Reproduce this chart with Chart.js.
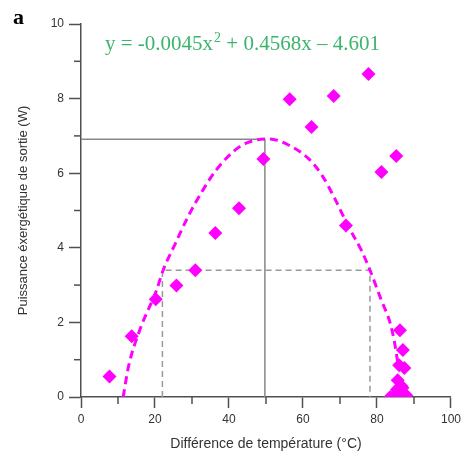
<!DOCTYPE html>
<html>
<head>
<meta charset="utf-8">
<script src="https://cdn.jsdelivr.net/npm/chart.js@4"></script>
<style>
  html, body { margin: 0; padding: 0; background: #fff; }
  #wrap { width: 465px; height: 455px; position: relative; }
</style>
</head>
<body>
<div id="wrap"><canvas id="chart"></canvas></div>
<script>
// Measured points: temperature difference (°C) vs output exergy power (W)
const tempDiff = [7.7, 13.7, 20.2, 25.8, 30.9, 36.3, 42.7, 49.3, 56.4, 62.3, 68.3, 71.6, 77.7, 81.2, 85.2,
                  86.2, 87.0, 86.0, 87.4, 85.6, 86.5, 86.9, 85.4, 85.0, 85.8, 86.6, 87.3, 83.6, 84.4, 87.9];
const power    = [0.55, 1.63, 2.62, 2.99, 3.40, 4.40, 5.06, 6.38, 7.98, 7.24, 8.07, 4.60, 8.66, 6.03, 6.46,
                  1.79, 1.26, 0.85, 0.78, 0.45, 0.30, 0.25, 0.20, 0.05, 0.00, 0.05, 0.00, 0.00, 0.00, 0.05];

// Fitted curve (dashed)
const fitX = [11.4, 12.8, 15.9, 20.4, 22.2, 25.3, 28.9, 32.9, 36.5, 41.4, 45.0, 50.8, 56.2, 61.5, 65.1,
              68.7, 72.3, 75.8, 78.1, 81.2, 83.5, 84.8, 85.8];
const fitY = [0.0, 0.8, 1.8, 2.86, 3.4, 4.07, 4.83, 5.54, 6.08, 6.6, 6.82, 6.92, 6.75, 6.39, 5.95,
              5.3, 4.56, 3.93, 3.4, 2.59, 2.0, 1.43, 0.8];

// Guide lines: maximum (solid) and half-power level (dashed)
const peakLineX = [0, 49.7, 49.7];
const peakLineY = [6.91, 6.91, 0];
const halfLineX = [22.0, 22.0, 78.1, 78.1];
const halfLineY = [0, 3.4, 3.4, 0];

// Axis ticks
const xTicks = [0, 20, 40, 60, 80, 100];
const yTicks = [0, 2, 4, 6, 8, 10];
const xMinorTicks = [10, 30, 50, 70, 90];
const yMinorTicks = [1, 3, 5, 7, 9];

const axisColor = '#505050';
const sansFont = '"Liberation Sans", Arial, sans-serif';
const serifFont = '"Liberation Serif", "Times New Roman", serif';

function toPoints(xs, ys) {
    return xs.map((x, i) => ({ x: x, y: ys[i] }));
}

// Minor ticks, panel letter and fit equation
const decorations = {
    id: 'decorations',
    afterDraw(chart) {
        const { ctx, scales: { x, y } } = chart;
        ctx.save();
        ctx.strokeStyle = axisColor;
        ctx.lineWidth = 1.5;
        xMinorTicks.forEach(v => {
            const px = x.getPixelForValue(v);
            ctx.beginPath();
            ctx.moveTo(px, y.bottom);
            ctx.lineTo(px, y.bottom + 7);
            ctx.stroke();
        });
        yMinorTicks.forEach(v => {
            const py = y.getPixelForValue(v);
            ctx.beginPath();
            ctx.moveTo(x.left, py);
            ctx.lineTo(x.left - 7, py);
            ctx.stroke();
        });

        // panel letter
        ctx.fillStyle = '#000';
        ctx.font = 'bold 22px ' + serifFont;
        ctx.textBaseline = 'alphabetic';
        ctx.fillText('a', 13, 24);

        // equation with superscript
        ctx.fillStyle = '#3cb46e';
        let cx = 105;
        const base = 50;
        ctx.font = '21px ' + serifFont;
        const part1 = 'y = -0.0045x';
        ctx.fillText(part1, cx, base);
        cx += ctx.measureText(part1).width;
        ctx.font = '14px ' + serifFont;
        ctx.fillText('2', cx + 1, base - 8);
        cx += ctx.measureText('2').width + 1;
        ctx.font = '21px ' + serifFont;
        ctx.fillText(' + 0.4568x \u2013 4.601', cx, base);
        ctx.restore();
    }
};

new Chart(document.getElementById('chart'), {
    type: 'scatter',
    data: {
        datasets: [
            {
                label: 'Mesures',
                data: toPoints(tempDiff, power),
                pointStyle: 'rectRot',
                pointRadius: 7,
                backgroundColor: '#ff00ff',
                borderColor: '#ff00ff',
                borderWidth: 0,
                order: 0
            },
            {
                type: 'line',
                label: 'Ajustement',
                data: toPoints(fitX, fitY),
                borderColor: '#ff00ff',
                borderWidth: 3,
                borderDash: [8, 5],
                pointRadius: 0,
                fill: false,
                cubicInterpolationMode: 'monotone',
                order: 1
            },
            {
                type: 'line',
                label: 'Max',
                data: toPoints(peakLineX, peakLineY),
                borderColor: '#888',
                borderWidth: 1.5,
                pointRadius: 0,
                fill: false,
                order: 2
            },
            {
                type: 'line',
                label: 'Demi',
                data: toPoints(halfLineX, halfLineY),
                borderColor: '#999',
                borderWidth: 1.5,
                borderDash: [6, 4],
                pointRadius: 0,
                fill: false,
                order: 2
            }
        ]
    },
    options: {
        responsive: true,
        maintainAspectRatio: false,
        animation: false,
        layout: { padding: { left: 0, right: 12, top: 24, bottom: 0 } },
        plugins: {
            legend: { display: false },
            tooltip: { enabled: false }
        },
        scales: {
            x: {
                type: 'linear',
                min: xTicks[0],
                max: xTicks[xTicks.length - 1],
                afterBuildTicks: scale => { scale.ticks = xTicks.map(v => ({ value: v })); },
                afterFit: scale => { scale.height = 58; },
                grid: { drawOnChartArea: false, drawTicks: true, tickLength: 11, color: axisColor, tickWidth: 1.5 },
                border: { color: axisColor, width: 1.5 },
                ticks: { color: '#333', font: { family: sansFont, size: 12 }, padding: 4, maxRotation: 0 },
                title: {
                    display: true,
                    text: 'Différence de température (°C)',
                    color: '#333',
                    font: { family: sansFont, size: 14 },
                    padding: { top: 0, bottom: 2 }
                }
            },
            y: {
                type: 'linear',
                min: yTicks[0],
                max: yTicks[yTicks.length - 1],
                afterBuildTicks: scale => { scale.ticks = yTicks.map(v => ({ value: v })); },
                afterFit: scale => { scale.width = 81; },
                grid: { drawOnChartArea: false, drawTicks: true, tickLength: 12, color: axisColor, tickWidth: 1.5 },
                border: { color: axisColor, width: 1.5 },
                ticks: { color: '#333', font: { family: sansFont, size: 12 }, padding: 5 },
                title: {
                    display: true,
                    text: 'Puissance éxergétique de sortie (W)',
                    color: '#333',
                    font: { family: sansFont, size: 13 },
                    padding: { top: 16, bottom: 0 }
                }
            }
        }
    },
    plugins: [decorations]
});
</script>
</body>
</html>
